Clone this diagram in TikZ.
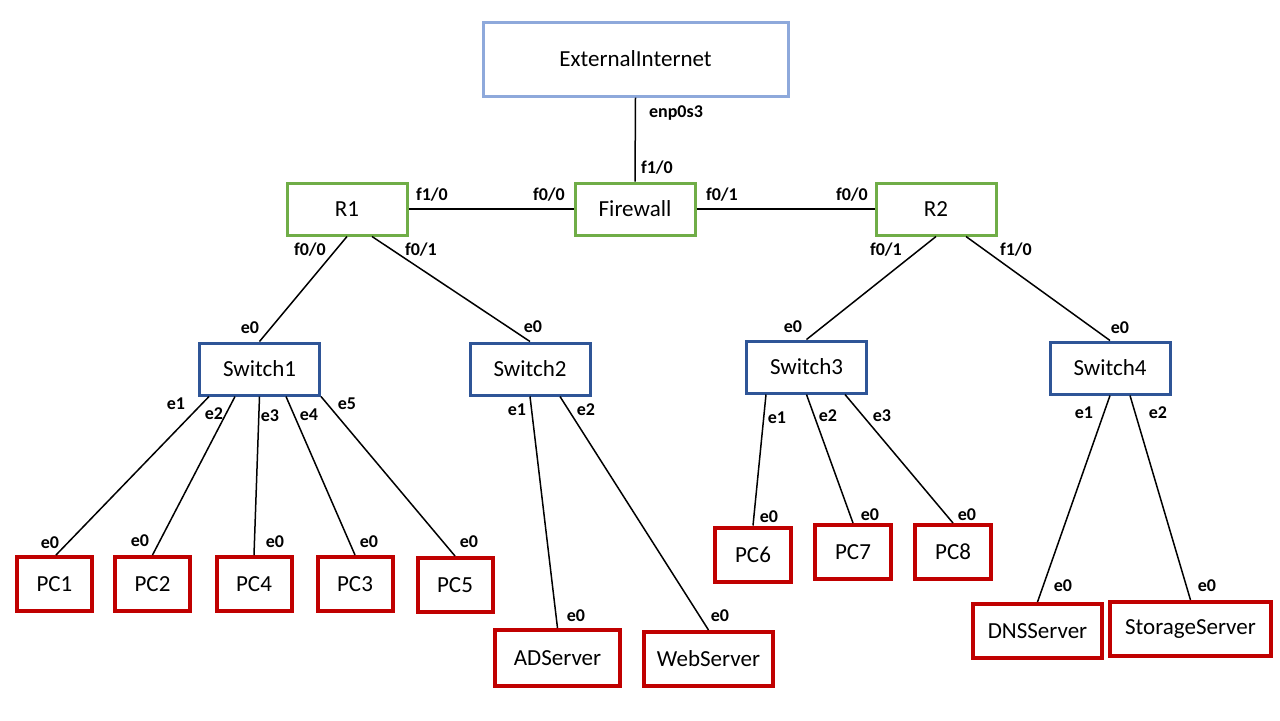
\documentclass[tikz,border=0pt]{standalone}
\usepackage{fontspec}
\setmainfont{Carlito}
\definecolor{inetblue}{HTML}{8EA9DB}
\definecolor{routergreen}{HTML}{70AD47}
\definecolor{switchblue}{HTML}{2F5597}
\definecolor{hostred}{HTML}{C00000}
\begin{document}
\begin{tikzpicture}[x=0.5pt,y=-0.5pt,
		box/.style={draw,line width=1.5pt,inner sep=0pt,minimum height=26pt,font=\fontsize{11.5}{13}\selectfont},
		router/.style={box,draw=routergreen,minimum width=60pt},
		switch/.style={box,draw=switchblue,minimum width=60pt},
		host/.style={box,draw=hostred,line width=2pt,minimum width=#1,minimum height=27pt},
		port/.style={font=\bfseries\fontsize{9}{10}\selectfont,inner sep=0pt},
		link/.style={line width=0.75pt}]
		\useasboundingbox (0,0) rectangle (1280,720);
		% core
		\node[box,draw=inetblue,minimum width=152.5pt,minimum height=37pt](inet) at (635.5,59){ExternalInternet};
		\node[router](fw) at (635,209){Firewall};
		\node[router](r1) at (347,209){R1};
		\node[router](r2) at (936,209){R2};
		% switches
		\node[switch](sw1) at (259.5,369){Switch1};
		\node[switch](sw2) at (530,369){Switch2};
		\node[switch](sw3) at (806.5,367){Switch3};
		\node[switch](sw4) at (1110,368){Switch4};
		% hosts
		\node[host=37.5pt](pc1) at (54.5,584){PC1};
		\node[host=37.5pt](pc2) at (152.5,584){PC2};
		\node[host=37.5pt](pc4) at (254,584){PC4};
		\node[host=37.5pt](pc3) at (355,584){PC3};
		\node[host=37.5pt](pc5) at (455,585){PC5};
		\node[host=62.5pt,minimum height=28pt](ad) at (557.5,658){ADServer};
		\node[host=64.5pt](web) at (708.5,659){WebServer};
		\node[host=38pt](pc6) at (753,554.5){PC6};
		\node[host=38pt](pc7) at (853,552){PC7};
		\node[host=38pt](pc8) at (953,552){PC8};
		\node[host=64.5pt](dns) at (1037.5,631){DNSServer};
		\node[host=80.5pt](st) at (1190.5,629){StorageServer};
		% links
		\draw[link] (inet.south) -- (fw.north);
		\draw[link] (r1.east) -- (fw.west);
		\draw[link] (fw.east) -- (r2.west);
		\draw[link] (r1.south) -- (sw1.north);
		\draw[link] ([shift={(25,0)}]r1.south) -- (sw2.north);
		\draw[link] (r2.south) -- (sw3.north);
		\draw[link] ([shift={(30,0)}]r2.south) -- (sw4.north);
		\draw[link] ([shift={(-50.5,0)}]sw1.south) -- ([shift={(1.5,0)}]pc1.north);
		\draw[link] ([shift={(-24.5,0)}]sw1.south) -- (pc2.north);
		\draw[link] (sw1.south) -- (pc4.north);
		\draw[link] ([shift={(26.5,0)}]sw1.south) -- (pc3.north);
		\draw[link] (sw1.south east) -- (pc5.north);
		\draw[link] (sw2.south) -- (ad.north);
		\draw[link] ([shift={(30,0)}]sw2.south) -- (web.north);
		\draw[link] ([shift={(-40.5,0)}]sw3.south) -- (pc6.north);
		\draw[link] (sw3.south) -- (pc7.north);
		\draw[link] ([shift={(38.5,0)}]sw3.south) -- (pc8.north);
		\draw[link] (sw4.south) -- (dns.north);
		\draw[link] ([shift={(20,0)}]sw4.south) -- (st.north);
		% port labels
		\node[port](p1) at (676,113){enp0s3};
		\node[port](p2) at (657,168){f1/0};
		\node[port](p3) at (432,195){f1/0};
		\node[port](p4) at (549,195){f0/0};
		\node[port](p5) at (722,195){f0/1};
		\node[port](p6) at (852,195){f0/0};
		\node[port](p7) at (310,250){f0/0};
		\node[port](p8) at (421,250){f0/1};
		\node[port](p9) at (886,250){f0/1};
		\node[port](p10) at (1016,250){f1/0};
		\node[port](p11) at (250,328){e0};
		\node[port](p12) at (533,327){e0};
		\node[port](p13) at (793,327){e0};
		\node[port](p14) at (1120,328){e0};
		\node[port](p15) at (176,404){e1};
		\node[port](p16) at (214,414){e2};
		\node[port](p17) at (270,416){e3};
		\node[port](p18) at (309,415){e4};
		\node[port](p19) at (347,404){e5};
		\node[port](p20) at (50,543){e0};
		\node[port](p21) at (140,541){e0};
		\node[port](p22) at (275,542){e0};
		\node[port](p23) at (369,542){e0};
		\node[port](p24) at (469,542){e0};
		\node[port](p25) at (517,410){e1};
		\node[port](p26) at (586,410){e2};
		\node[port](p27) at (576,616){e0};
		\node[port](p28) at (720,616){e0};
		\node[port](p29) at (777,418){e1};
		\node[port](p30) at (828,416){e2};
		\node[port](p31) at (882,416){e3};
		\node[port](p32) at (769,517){e0};
		\node[port](p33) at (870,515){e0};
		\node[port](p34) at (967,515){e0};
		\node[port](p35) at (1084,413){e1};
		\node[port](p36) at (1158,413){e2};
		\node[port](p37) at (1063,586){e0};
		\node[port](p38) at (1207,586){e0};
	\end{tikzpicture}
\end{document}
